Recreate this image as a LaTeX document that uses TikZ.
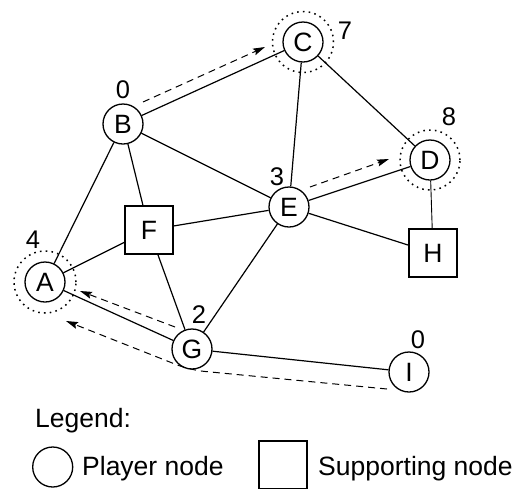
\documentclass[tikz,border=0pt]{standalone}
\usepackage{fontspec}
\setmainfont{Liberation Sans}
\usetikzlibrary{arrows.meta}
\begin{document}
\begin{tikzpicture}[x=1pt,y=-1pt,
  player/.style={circle,draw,line width=1.3pt,minimum size=40pt,inner sep=0pt,font=\fontsize{26.5}{27}\selectfont},
  support/.style={rectangle,draw,line width=1.3pt,minimum size=48pt,inner sep=0pt,font=\fontsize{26.5}{27}\selectfont},
  score/.style={inner sep=0pt,font=\fontsize{25.5}{26}\selectfont},
  keytext/.style={inner sep=0pt,font=\fontsize{26.5}{27}\selectfont},
  link/.style={line width=1.2pt},
  thinlink/.style={line width=0.9pt},
  move/.style={line width=1pt,dash pattern=on 7pt off 5pt,-{Stealth[length=12pt,width=7pt,inset=2pt]}},
  halo/.style={draw,line width=1.5pt,dash pattern=on 1.6pt off 4.2pt}
]
\useasboundingbox (0,0) rectangle (519,488);

% player and supporting nodes
\node[player]  (A) at (45,282)  {A};
\node[player]  (B) at (123,124) {B};
\node[player]  (C) at (303,42)  {C};
\node[player]  (D) at (430,160) {D};
\node[player]  (E) at (289,207) {E};
\node[support] (F) at (149,230) {F};
\node[player]  (G) at (192,349) {G};
\node[support] (H) at (433,253) {H};
\node[player]  (I) at (409,372) {I};

% dotted halos
\draw[halo] (A.center) circle[radius=31pt];
\draw[halo] (C.center) circle[radius=30.5pt];
\draw[halo] (D.center) circle[radius=30pt];

% scores
\node[score] (sA) at (33,240)  {4};
\node[score] (sB) at (123,90)  {0};
\node[score] (sC) at (345,31)  {7};
\node[score] (sD) at (449,117) {8};
\node[score] (sE) at (277,177) {3};
\node[score] (sG) at (199,315) {2};
\node[score] (sI) at (418,340) {0};

% links
\draw[link] (B) -- (C);
\draw[link] (B) -- (E);
\draw[link] (B) -- (F);
\draw[link] (B) -- (A);
\draw[link] (C) -- (E);
\draw[link] (C) -- (D);
\draw[link] (D) -- (E);
\draw[thinlink] (D) -- (H);
\draw[link] (E) -- (H);
\draw[link] (E) -- (F);
\draw[link] (E) -- (G);
\draw[link] (F) -- (A);
\draw[link] (F) -- (G);
\draw[link] (A) -- (G);
\draw[link] (G) -- (I);

% moves
\coordinate (bcFrom) at (143,102);
\coordinate (bcTo)   at (265,47);
\coordinate (edFrom) at (310,187);
\coordinate (edTo)   at (389,159);
\coordinate (gaFrom) at (175,327);
\coordinate (gaTo)   at (80,291);
\coordinate (iaFrom) at (387,389);
\coordinate (iaBend) at (190,370);
\coordinate (iaTo)   at (66,321);
\draw[move] (bcFrom) -- (bcTo);
\draw[move] (edFrom) -- (edTo);
\draw[move] (gaFrom) -- (gaTo);
\draw[move,rounded corners=14pt] (iaFrom) -- (iaBend) -- (iaTo);

% legend
\node[keytext,anchor=base west] (legendTitle) at (35,427) {Legend:};
\node[player] (keyPlayer) at (52.7,467) {};
\node[keytext,anchor=base west] (keyPlayerText) at (82,475) {Player node};
\node[support] (keySupport) at (283,465) {};
\node[keytext,anchor=base west] (keySupportText) at (318,475) {Supporting node};
\end{tikzpicture}
\end{document}
